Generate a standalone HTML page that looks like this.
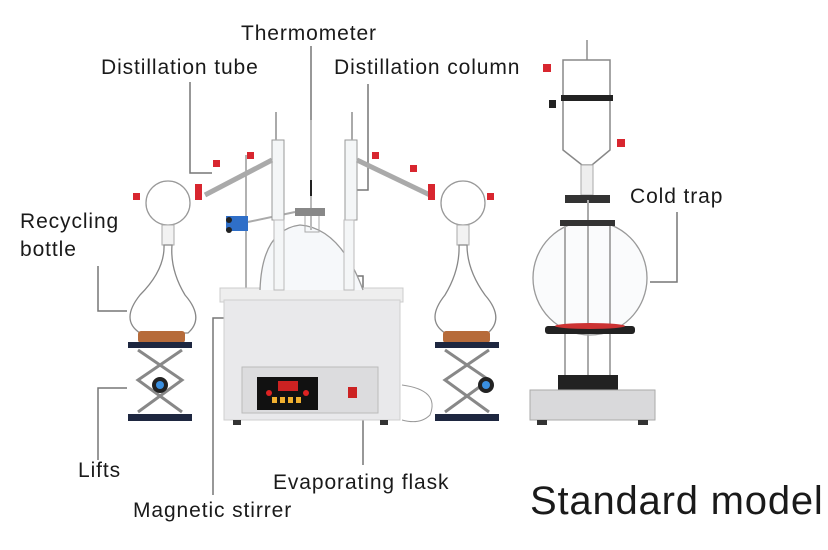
<!DOCTYPE html>
<html><head><meta charset="utf-8"><style>
body{margin:0;background:#fff}
svg{display:block}
text{font-family:"Liberation Sans",sans-serif;fill:#1a1a1a}
</style></head><body>
<svg width="828" height="550" viewBox="0 0 828 550" xmlns="http://www.w3.org/2000/svg">
<rect width="828" height="550" fill="#fff"/>
<!-- labels -->
<g font-size="21" letter-spacing="0.9">
<text x="241" y="40">Thermometer</text>
<text x="101" y="74">Distillation tube</text>
<text x="334" y="74">Distillation column</text>
<text x="20" y="228">Recycling</text>
<text x="20" y="256">bottle</text>
<text x="630" y="203">Cold trap</text>
<text x="78" y="477">Lifts</text>
<text x="273" y="489">Evaporating flask</text>
<text x="133" y="517">Magnetic stirrer</text>
</g>
<text x="530" y="514" font-size="40" letter-spacing="0.8">Standard model</text>
<!-- leader lines -->
<g stroke="#777" stroke-width="1.5" fill="none">
<polyline points="190,82 190,173 212,173"/>
<polyline points="311,46 311,190"/>
<polyline points="368,84 368,190 355,190"/>
<polyline points="98,266 98,311 127,311"/>
<polyline points="98,460 98,388 127,388"/>
<polyline points="213,495 213,318 225,318"/>
<polyline points="363,465 363,276 352,276"/>
<polyline points="677,212 677,282 650,282"/>
</g>
<!-- heating box -->
<line x1="246" y1="155" x2="246" y2="290" stroke="#999" stroke-width="1.5"/>
<rect x="220" y="288" width="183" height="14" fill="#eeeeee" stroke="#ccc"/>
<rect x="224" y="300" width="176" height="120" fill="#e9e9eb" stroke="#cfcfcf"/>
<rect x="242" y="367" width="136" height="46" fill="#dcdcde" stroke="#bbb"/>
<rect x="257" y="377" width="61" height="33" fill="#111"/>
<rect x="278" y="381" width="20" height="10" fill="#c22"/>
<rect x="272" y="397" width="5" height="6" fill="#f0b030"/><rect x="280" y="397" width="5" height="6" fill="#f0b030"/><rect x="288" y="397" width="5" height="6" fill="#f0b030"/><rect x="296" y="397" width="5" height="6" fill="#f0b030"/>
<circle cx="269" cy="393" r="3" fill="#d22"/><circle cx="306" cy="393" r="3" fill="#d22"/>
<rect x="348" y="387" width="9" height="11" fill="#c22"/>
<rect x="233" y="420" width="8" height="5" fill="#333"/><rect x="380" y="420" width="8" height="5" fill="#333"/>
<path d="M402 385 Q440 390 430 415 Q420 425 402 420" stroke="#999" fill="none"/>
<!-- central flask -->
<path d="M260 290 Q262 230 300 225 L300 225 Q340 228 363 290" fill="#f6f8fa" stroke="#999" stroke-width="1.3"/>
<rect x="305" y="212" width="14" height="20" fill="none" stroke="#aaa"/>
<line x1="311" y1="120" x2="311" y2="230" stroke="#bbb" stroke-width="2"/>
<line x1="311" y1="180" x2="311" y2="196" stroke="#222" stroke-width="2"/>
<rect x="295" y="208" width="30" height="8" fill="#888"/>
<rect x="226" y="216" width="22" height="15" fill="#2f6fc8"/>
<circle cx="229" cy="220" r="3" fill="#222"/><circle cx="229" cy="230" r="3" fill="#222"/>
<line x1="248" y1="222" x2="295" y2="212" stroke="#aaa" stroke-width="2"/>
<!-- columns -->
<rect x="272" y="140" width="12" height="80" fill="#f4f6f7" stroke="#999"/>
<rect x="274" y="220" width="10" height="70" fill="#f4f6f7" stroke="#bbb"/>
<rect x="345" y="140" width="12" height="80" fill="#f4f6f7" stroke="#999"/>
<rect x="344" y="220" width="10" height="70" fill="#f4f6f7" stroke="#bbb"/>
<line x1="276" y1="112" x2="276" y2="140" stroke="#aaa" stroke-width="2"/>
<line x1="352" y1="112" x2="352" y2="140" stroke="#aaa" stroke-width="2"/>
<line x1="272" y1="160" x2="205" y2="195" stroke="#aaa" stroke-width="5"/>
<line x1="357" y1="160" x2="430" y2="195" stroke="#aaa" stroke-width="5"/>
<g fill="#d8262f">
<rect x="213" y="160" width="7" height="7"/><rect x="247" y="152" width="7" height="7"/>
<rect x="372" y="152" width="7" height="7"/><rect x="410" y="165" width="7" height="7"/>
<rect x="133" y="193" width="7" height="7"/><rect x="487" y="193" width="7" height="7"/>
<rect x="195" y="184" width="7" height="16"/><rect x="428" y="184" width="7" height="16"/>
</g>
<!-- left flask -->
<circle cx="168" cy="203" r="22" fill="none" stroke="#999" stroke-width="1.3"/>
<rect x="162" y="225" width="12" height="20" fill="#f2f2f2" stroke="#aaa"/>
<path d="M164 245 Q165 270 140 295 Q120 320 140 333 L188 333 Q205 318 185 295 Q170 270 172 245Z" fill="none" stroke="#888" stroke-width="1.3"/>
<rect x="138" y="331" width="47" height="12" rx="3" fill="#b66b3a"/>
<!-- right flask -->
<circle cx="463" cy="203" r="22" fill="none" stroke="#999" stroke-width="1.3"/>
<rect x="457" y="225" width="12" height="20" fill="#f2f2f2" stroke="#aaa"/>
<path d="M459 245 Q460 270 445 295 Q425 320 445 333 L488 333 Q505 318 485 295 Q467 270 467 245Z" fill="none" stroke="#888" stroke-width="1.3"/>
<rect x="443" y="331" width="47" height="12" rx="3" fill="#b66b3a"/>
<!-- lifts -->
<g>
<rect x="128" y="342" width="64" height="6" fill="#1e2740"/>
<rect x="128" y="414" width="64" height="7" fill="#1e2740"/>
<path d="M138 350 L182 380 L138 412 M182 350 L138 380 L182 412" stroke="#888" stroke-width="3" fill="none"/>
<circle cx="160" cy="385" r="8" fill="#222"/><circle cx="160" cy="385" r="4" fill="#3a8fe0"/>
<rect x="435" y="342" width="64" height="6" fill="#1e2740"/>
<rect x="435" y="414" width="64" height="7" fill="#1e2740"/>
<path d="M445 350 L489 380 L445 412 M489 350 L445 380 L489 412" stroke="#888" stroke-width="3" fill="none"/>
<circle cx="486" cy="385" r="8" fill="#222"/><circle cx="486" cy="385" r="4" fill="#3a8fe0"/>
</g>
<!-- cold trap -->
<line x1="587" y1="40" x2="587" y2="60" stroke="#aaa" stroke-width="2"/>
<path d="M563 60 L610 60 L610 150 L592 165 L582 165 L563 150 Z" fill="none" stroke="#888" stroke-width="1.5"/>
<rect x="561" y="95" width="52" height="6" fill="#222"/>
<rect x="549" y="100" width="7" height="8" fill="#222"/>
<rect x="543" y="64" width="8" height="8" fill="#d8262f"/><rect x="617" y="139" width="8" height="8" fill="#d8262f"/>
<rect x="581" y="165" width="12" height="30" fill="#eee" stroke="#aaa"/>
<rect x="565" y="195" width="45" height="8" fill="#333"/>
<circle cx="590" cy="278" r="57" fill="#fafbfc" stroke="#999" stroke-width="1.3"/>
<g stroke="#aaa" stroke-width="2"><line x1="565" y1="220" x2="565" y2="390"/><line x1="588" y1="200" x2="588" y2="390"/><line x1="610" y1="220" x2="610" y2="390"/></g>
<rect x="560" y="220" width="55" height="6" fill="#333"/>
<rect x="545" y="326" width="90" height="8" rx="3" fill="#222"/>
<ellipse cx="590" cy="326" rx="35" ry="3" fill="#c33"/>
<rect x="558" y="375" width="60" height="16" fill="#222"/>
<rect x="530" y="390" width="125" height="30" fill="#d9d9db" stroke="#aaa"/>
<rect x="537" y="420" width="10" height="5" fill="#333"/><rect x="638" y="420" width="10" height="5" fill="#333"/>
</svg>
</body></html>
